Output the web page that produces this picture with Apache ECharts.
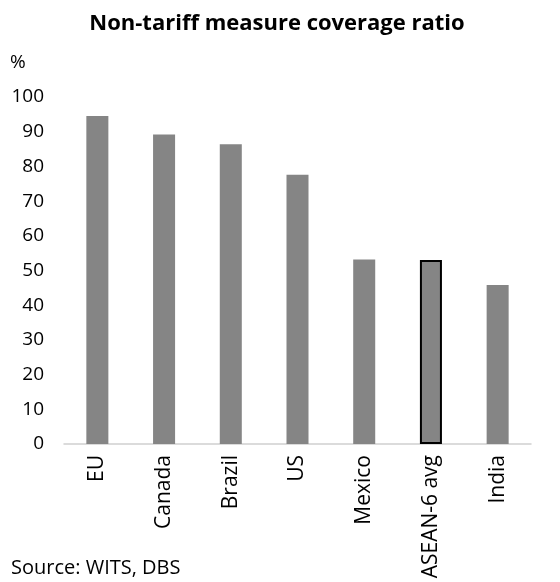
<!DOCTYPE html>
<html>
<head>
<meta charset="utf-8">
<script src="https://cdn.jsdelivr.net/npm/echarts@6/dist/echarts.min.js"></script>
<style>
html, body { margin: 0; padding: 0; background: #fff; }
#chart { width: 560px; height: 582px; }
</style>
</head>
<body>
<div id="chart"></div>
<script>
var categories = ['EU', 'Canada', 'Brazil', 'US', 'Mexico', 'ASEAN-6 avg', 'India'];
var coverage = [94.5, 89.2, 86.4, 77.6, 53.2, 53.0, 45.8];
var highlight = 'ASEAN-6 avg';

var chart = echarts.init(document.getElementById('chart'));
var font = '"Open Sans", "Liberation Sans", sans-serif';

var option = {
  backgroundColor: '#ffffff',
  animation: false,
  title: {
    text: 'Non-tariff measure coverage ratio',
    left: 272,
    textAlign: 'center',
    top: 8,
    textStyle: { fontFamily: font, fontSize: 22, fontWeight: 'bold', color: '#000' }
  },
  grid: { left: 64, right: 29, top: 97, bottom: 138 },
  xAxis: {
    type: 'category',
    data: categories,
    axisLine: { lineStyle: { color: '#d0d0d0', width: 1.5 } },
    axisTick: { show: false },
    axisLabel: {
      rotate: 90,
      margin: 11,
      color: '#000',
      fontFamily: font,
      fontSize: 21
    }
  },
  yAxis: {
    type: 'value',
    min: 0,
    max: 100,
    interval: 10,
    name: '%',
    nameLocation: 'end',
    nameGap: 25,
    nameTextStyle: { fontFamily: font, fontSize: 19, color: '#000', align: 'left', padding: [0, 0, 0, -54] },
    axisLine: { show: false },
    axisTick: { show: false },
    splitLine: { show: false },
    axisLabel: { color: '#000', fontFamily: font, fontSize: 19, margin: 20 }
  },
  series: [{
    type: 'bar',
    barWidth: '33%',
    data: coverage.map(function (v, i) {
      var item = { value: v };
      if (categories[i] === highlight) {
        item.itemStyle = { borderColor: '#000', borderWidth: 2 };
      }
      return item;
    }),
    itemStyle: { color: '#858585' }
  }],
  graphic: [{
    type: 'text',
    left: 11,
    top: 558,
    style: { text: 'Source: WITS, DBS', font: '20px ' + font, fill: '#000' }
  }]
};

chart.setOption(option);
</script>
</body>
</html>
